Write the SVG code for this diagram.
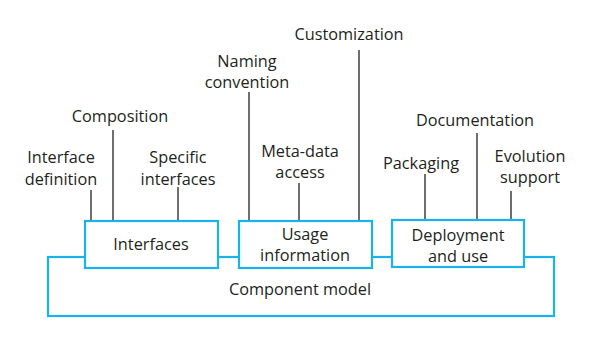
<svg xmlns="http://www.w3.org/2000/svg" width="613" height="339" viewBox="0 0 613 339">
  <style>
    .box { fill: #ffffff; stroke: #1ab2ea; stroke-width: 2.2; }
    .outer { fill: none; stroke: #1ab2ea; stroke-width: 2.2; }
    .lead { stroke: #231f20; stroke-width: 1.3; fill: none; }
    text { font-family: "Open Sans", "Noto Sans", sans-serif; font-size: 16.3px; fill: #231f20; text-anchor: middle; }
  </style>
  <rect width="613" height="339" fill="#ffffff"/>

  <!-- leader lines from feature labels down to their boxes -->
  <g id="connectors">
    <line class="lead" x1="91" y1="190" x2="91" y2="221"/>
    <line class="lead" x1="113" y1="130" x2="113" y2="221"/>
    <line class="lead" x1="178" y1="187" x2="178" y2="221"/>
    <line class="lead" x1="249" y1="92" x2="249" y2="221"/>
    <line class="lead" x1="299" y1="183" x2="299" y2="221"/>
    <line class="lead" x1="359" y1="50" x2="359" y2="221"/>
    <line class="lead" x1="425" y1="174" x2="425" y2="220"/>
    <line class="lead" x1="477" y1="133" x2="477" y2="220"/>
    <line class="lead" x1="511" y1="191" x2="511" y2="220"/>
  </g>

  <g id="component-model">
    <rect class="outer" x="48" y="257" width="506" height="59"/>
    <text x="300" y="295">Component model</text>
  </g>

  <g id="interfaces">
    <rect class="box" x="85" y="221" width="133" height="47"/>
    <text x="151" y="250">Interfaces</text>
  </g>

  <g id="usage-information">
    <rect class="box" x="239" y="221" width="133" height="47"/>
    <text x="305" y="240">Usage</text>
    <text x="305" y="261">information</text>
  </g>

  <g id="deployment">
    <rect class="box" x="392" y="220" width="132" height="47"/>
    <text x="458" y="241">Deployment</text>
    <text x="458" y="262">and use</text>
  </g>

  <g id="label-interface-definition">
    <text x="61" y="163">Interface</text>
    <text x="61" y="185">definition</text>
  </g>
  <g id="label-composition">
    <text x="120" y="122">Composition</text>
  </g>
  <g id="label-specific-interfaces">
    <text x="178" y="163">Specific</text>
    <text x="178" y="185">interfaces</text>
  </g>
  <g id="label-naming-convention">
    <text x="247" y="67">Naming</text>
    <text x="247" y="88">convention</text>
  </g>
  <g id="label-customization">
    <text x="349" y="40">Customization</text>
  </g>
  <g id="label-meta-data-access">
    <text x="300" y="157">Meta-data</text>
    <text x="300" y="178">access</text>
  </g>
  <g id="label-packaging">
    <text x="421" y="169">Packaging</text>
  </g>
  <g id="label-documentation">
    <text x="475" y="126">Documentation</text>
  </g>
  <g id="label-evolution-support">
    <text x="530" y="162">Evolution</text>
    <text x="530" y="183">support</text>
  </g>
</svg>
